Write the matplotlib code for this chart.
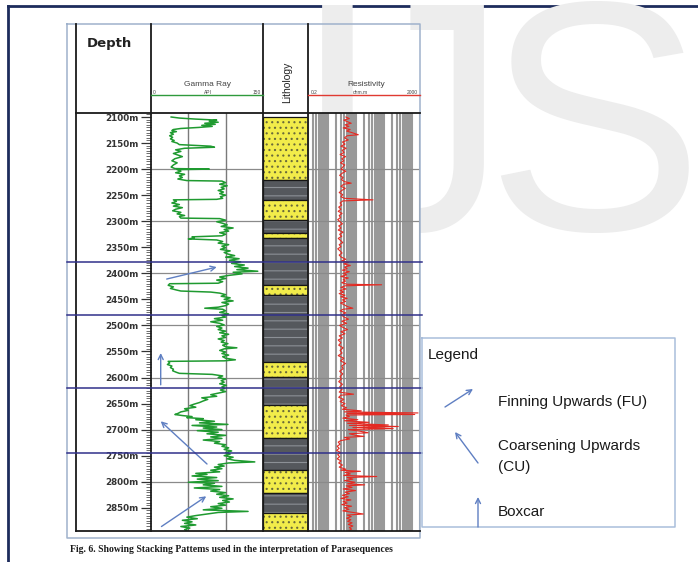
import numpy as np
import matplotlib
matplotlib.use("Agg")
import matplotlib.pyplot as plt
from matplotlib import transforms
from matplotlib.ticker import MultipleLocator, LogLocator, NullFormatter

depth_ticks = [2100, 2150, 2200, 2250, 2300, 2350, 2400, 2450,
               2500, 2550, 2600, 2650, 2700, 2750, 2800, 2850]
grid_depths = [2200, 2300, 2400, 2500, 2600, 2700, 2800]
boundaries = [2378, 2480, 2620, 2745]   # parasequence boundaries (m)

# gamma ray (depth m, API)
gamma_log = [
    (2100, 27), (2102, 38), (2104, 60), (2106, 88), (2108, 78), (2110, 90), (2112, 72),
    (2114, 86), (2116, 68), (2118, 82), (2120, 64), (2122, 40), (2124, 30), (2126, 28),
    (2128, 34), (2130, 26), (2133, 30), (2136, 25), (2139, 29), (2142, 26), (2145, 31),
    (2147, 28), (2150, 35), (2153, 38), (2156, 80), (2158, 85), (2160, 45), (2163, 33),
    (2166, 40), (2170, 30), (2173, 36), (2176, 42), (2180, 32), (2184, 28), (2188, 35),
    (2192, 30), (2196, 27), (2199, 32), (2200, 78), (2201, 35), (2204, 40), (2207, 33),
    (2210, 45), (2213, 38), (2216, 42), (2219, 36), (2222, 48), (2223, 95), (2226, 100),
    (2229, 92), (2232, 102), (2235, 94), (2238, 98), (2241, 90), (2244, 97), (2247, 92),
    (2250, 100), (2253, 93), (2256, 96), (2258, 88), (2259, 30), (2262, 34), (2265, 28),
    (2268, 38), (2271, 30), (2274, 42), (2277, 33), (2280, 29), (2283, 40), (2286, 35),
    (2289, 45), (2291, 38), (2294, 40), (2295, 92), (2298, 100), (2301, 88), (2304, 96),
    (2307, 102), (2310, 94), (2313, 110), (2316, 98), (2319, 104), (2322, 92), (2325, 100),
    (2328, 95), (2330, 55), (2332, 58), (2334, 50), (2336, 88), (2339, 96), (2342, 90),
    (2345, 104), (2348, 95), (2351, 100), (2354, 93), (2357, 106), (2360, 98), (2363, 103),
    (2366, 112), (2369, 100), (2372, 118), (2375, 105), (2378, 120), (2381, 108), (2384, 125),
    (2387, 112), (2390, 130), (2393, 115), (2396, 143), (2398, 110), (2401, 122), (2404, 104),
    (2407, 92), (2410, 100), (2413, 88), (2416, 96), (2419, 90), (2420, 25), (2423, 23),
    (2426, 30), (2429, 26), (2432, 34), (2434, 40), (2436, 80), (2438, 92), (2441, 100),
    (2444, 94), (2447, 106), (2450, 98), (2453, 110), (2456, 95), (2459, 104), (2462, 100),
    (2465, 90), (2467, 72), (2469, 96), (2472, 100), (2475, 92), (2478, 104), (2481, 95),
    (2484, 100), (2487, 85), (2490, 96), (2493, 80), (2496, 92), (2499, 98), (2502, 88),
    (2505, 95), (2508, 90), (2511, 100), (2514, 92), (2517, 104), (2520, 95), (2523, 100),
    (2526, 90), (2529, 98), (2532, 94), (2535, 103), (2538, 96), (2541, 100), (2543, 115),
    (2545, 98), (2548, 92), (2551, 100), (2554, 95), (2557, 104), (2560, 96), (2563, 100),
    (2566, 113), (2568, 98), (2569, 23), (2572, 25), (2575, 22), (2578, 28), (2581, 26),
    (2584, 30), (2587, 29), (2590, 34), (2592, 38), (2594, 82), (2597, 96), (2600, 90),
    (2603, 100), (2606, 94), (2609, 98), (2612, 92), (2615, 101), (2618, 95), (2621, 99),
    (2624, 93), (2627, 100), (2630, 90), (2633, 80), (2636, 88), (2639, 68), (2642, 76),
    (2645, 70), (2648, 65), (2651, 58), (2654, 52), (2657, 60), (2660, 45), (2663, 50),
    (2666, 40), (2669, 36), (2671, 32), (2673, 42), (2675, 55), (2677, 48), (2679, 70),
    (2681, 60), (2684, 85), (2687, 65), (2690, 103), (2692, 55), (2695, 88), (2697, 70),
    (2700, 95), (2702, 62), (2705, 90), (2708, 75), (2711, 100), (2714, 80), (2717, 95),
    (2720, 70), (2723, 92), (2726, 85), (2729, 100), (2732, 95), (2735, 104), (2738, 98),
    (2741, 108), (2744, 100), (2747, 106), (2750, 98), (2753, 110), (2756, 102), (2759, 112),
    (2762, 139), (2764, 104), (2767, 90), (2770, 98), (2772, 85), (2775, 95), (2778, 80),
    (2781, 92), (2784, 60), (2786, 75), (2789, 55), (2792, 88), (2795, 62), (2798, 90),
    (2801, 50), (2803, 85), (2806, 70), (2809, 95), (2812, 58), (2815, 92), (2818, 80),
    (2821, 100), (2824, 88), (2827, 104), (2830, 92), (2833, 110), (2836, 96), (2839, 105),
    (2842, 90), (2845, 100), (2848, 80), (2851, 95), (2854, 70), (2857, 130), (2859, 90),
    (2862, 75), (2865, 60), (2868, 48), (2871, 62), (2874, 42), (2877, 55), (2880, 45),
    (2883, 60), (2886, 40), (2889, 52), (2892, 45), (2894, 48),
]

# resistivity (depth m, ohm.m)
res_log = [
    (2100, 4.5), (2103, 6.0), (2106, 3.8), (2109, 5.2), (2112, 7.0), (2115, 4.2), (2118, 5.8),
    (2121, 3.6), (2124, 6.4), (2127, 4.8), (2130, 7.5), (2134, 12.5), (2136, 5.0), (2140, 4.0),
    (2144, 5.5), (2148, 3.4), (2152, 4.2), (2156, 3.0), (2160, 4.6), (2164, 3.3), (2168, 3.9),
    (2172, 2.8), (2176, 4.4), (2180, 3.2), (2184, 3.8), (2188, 2.9), (2192, 4.1), (2196, 3.5),
    (2200, 3.0), (2204, 4.5), (2208, 3.3), (2212, 2.7), (2216, 3.6), (2220, 3.1), (2224, 4.0),
    (2227, 7.0), (2229, 3.8), (2233, 3.0), (2237, 4.3), (2241, 3.2), (2245, 2.6), (2249, 3.5),
    (2253, 3.0), (2256, 4.0), (2259, 42), (2261, 3.5), (2265, 2.8), (2269, 3.2), (2273, 2.5),
    (2277, 3.0), (2281, 2.4), (2285, 3.3), (2289, 2.6), (2293, 2.9), (2297, 2.3), (2301, 2.8),
    (2305, 3.4), (2309, 2.5), (2313, 3.0), (2317, 2.4), (2321, 3.6), (2325, 2.7), (2329, 3.2),
    (2333, 2.4), (2337, 2.9), (2341, 3.5), (2345, 2.6), (2349, 3.0), (2353, 2.3), (2357, 2.8),
    (2361, 3.3), (2365, 2.6), (2369, 3.1), (2373, 4.5), (2376, 3.2), (2379, 5.6), (2382, 3.8),
    (2385, 6.5), (2388, 4.0), (2391, 5.0), (2394, 3.4), (2397, 6.0), (2400, 3.7), (2403, 4.8),
    (2406, 3.0), (2409, 5.5), (2412, 3.6), (2415, 4.4), (2418, 3.2), (2421, 5.0), (2422, 85),
    (2424, 4.2), (2427, 3.0), (2430, 4.6), (2433, 2.8), (2436, 3.8), (2439, 2.6), (2442, 4.2),
    (2445, 3.0), (2448, 5.0), (2451, 3.4), (2454, 4.4), (2457, 2.9), (2460, 3.8), (2464, 5.2),
    (2467, 8.0), (2469, 3.6), (2472, 2.8), (2476, 4.5), (2480, 3.1), (2484, 3.9), (2488, 5.6),
    (2492, 3.2), (2496, 4.8), (2500, 2.7), (2504, 3.6), (2508, 5.2), (2512, 3.0), (2516, 4.2),
    (2520, 2.6), (2524, 3.4), (2528, 2.4), (2533, 3.0), (2538, 2.5), (2543, 3.6), (2548, 2.8),
    (2553, 3.3), (2558, 2.4), (2563, 3.8), (2568, 2.9), (2573, 4.4), (2578, 3.2), (2583, 3.6),
    (2588, 2.7), (2593, 3.5), (2598, 2.8), (2603, 3.1), (2608, 2.5), (2613, 3.4), (2618, 2.7),
    (2623, 3.3), (2628, 2.6), (2632, 8.5), (2634, 3.0), (2638, 2.5), (2642, 3.8), (2646, 2.8),
    (2650, 4.2), (2654, 3.1), (2658, 4.8), (2661, 3.4), (2664, 16), (2666, 4.0), (2668, 1700),
    (2669, 5.0), (2671, 1300), (2672, 4.5), (2675, 6.0), (2678, 3.5), (2681, 12), (2683, 4.0),
    (2686, 30), (2688, 5.2), (2691, 148), (2692, 6.0), (2694, 336), (2696, 8.0), (2698, 220),
    (2700, 5.5), (2703, 14), (2706, 28), (2708, 6.0), (2711, 10), (2713, 20), (2715, 4.0),
    (2718, 6.2), (2721, 3.0), (2724, 2.4), (2728, 2.8), (2732, 2.2), (2736, 2.6), (2740, 2.1),
    (2744, 2.9), (2748, 2.3), (2752, 2.7), (2756, 2.2), (2760, 3.0), (2764, 2.5), (2768, 3.4),
    (2772, 2.6), (2776, 4.5), (2778, 3.0), (2780, 15), (2782, 4.2), (2785, 6.5), (2788, 3.8),
    (2790, 57), (2792, 5.0), (2795, 8.0), (2798, 4.0), (2801, 9.5), (2804, 5.2), (2806, 21),
    (2808, 4.6), (2811, 7.5), (2814, 3.6), (2817, 10), (2820, 4.2), (2823, 6.0), (2826, 3.4),
    (2829, 5.5), (2832, 3.0), (2835, 6.8), (2838, 3.6), (2841, 5.0), (2844, 3.2), (2847, 7.2),
    (2850, 4.0), (2853, 5.8), (2856, 3.5), (2859, 8.0), (2862, 19), (2864, 5.0), (2867, 7.0),
    (2870, 4.8), (2873, 6.8), (2876, 5.2), (2879, 7.5), (2882, 5.5), (2885, 8.0), (2888, 6.0),
    (2891, 7.2), (2894, 5.8),
]

# lithology column
lith_top = [2100, 2221, 2259, 2298, 2323, 2332, 2422, 2442, 2570, 2599, 2653, 2716, 2777, 2822, 2860]
lith_base = [2221, 2259, 2298, 2323, 2332, 2422, 2442, 2570, 2599, 2653, 2716, 2777, 2822, 2860, 2895]
lith_type = ["sand", "shale", "sand", "shale", "sand", "shale", "sand", "shale",
             "sand", "shale", "sand", "shale", "sand", "shale", "sand"]

# stacking-pattern arrows drawn on the gamma track: (GR, depth) tail -> head
arrows_fu = [((21, 2411), (88, 2388)), ((14, 2886), (74, 2828))]
arrows_cu = [((75, 2766), (13, 2684))]
arrows_box = [((13, 2614), (13, 2553))]

gr_depth, gr_api = zip(*gamma_log)
res_depth, res_ohm = zip(*res_log)

W, H = 698, 562
top_depth, bot_depth = 2092.3, 2894.6


def box(x0, y0, x1, y1):
    # pixel box -> figure fraction rect
    return [x0 / W, 1 - y1 / H, (x1 - x0) / W, (y1 - y0) / H]


fig = plt.figure(figsize=(W / 100, H / 100), dpi=100)
plt.rcParams['font.family'] = ['Liberation Sans', 'DejaVu Sans']

bg = fig.add_axes([0, 0, 1, 1])
bg.set_xlim(0, W)
bg.set_ylim(H, 0)
bg.axis('off')
bg.set_zorder(0)

# faint watermark, cropped by the page edge like the original
for ch, xc in [("I", 337), ("J", 427), ("S", 594)]:
    bg.text(xc, 230, ch, fontsize=235, ha='center', va='baseline', color='#ededed',
            clip_on=True)

# page frame
bg.plot([8, W], [6, 6], color='#1d2c5c', lw=2)
bg.plot([8, 8], [6, H], color='#1d2c5c', lw=2)

# ---- gamma track ----
ax_gr = fig.add_axes(box(151, 113, 263, 531))
ax_gr.set_zorder(2)
ax_gr.patch.set_alpha(0)
ax_gr.set_xlim(0, 150)
ax_gr.set_ylim(bot_depth, top_depth)
for d in grid_depths:
    ax_gr.axhline(d, color='#8a8a8a', lw=0.9)
for g in [50, 100]:
    ax_gr.axvline(g, color='#7a7a7a', lw=1.0)
ax_gr.plot(gr_api, gr_depth, color='#1f9a30', lw=1.1)
for (x0, y0), (x1, y1) in arrows_fu + arrows_cu + arrows_box:
    ax_gr.annotate('', xy=(x1, y1), xytext=(x0, y0),
                   arrowprops=dict(arrowstyle='->', color='#5f7fc2', lw=1.0,
                                   mutation_scale=9, shrinkA=0, shrinkB=0))
for s in ax_gr.spines.values():
    s.set_visible(False)
ax_gr.set_xticks([])
ax_gr.set_yticks(depth_ticks)
ax_gr.set_yticklabels([f"{d}m" for d in depth_ticks])
ax_gr.yaxis.set_minor_locator(MultipleLocator(5))
ax_gr.tick_params(axis='y', which='major', length=7, width=0.9, color='#333333',
                  pad=2, labelsize=6.3, labelcolor='#333333')
ax_gr.tick_params(axis='y', which='minor', length=3.5, width=0.6, color='#555555')
for lab in ax_gr.get_yticklabels():
    lab.set_fontweight('bold')
    lab.set_family('DejaVu Sans')

# ---- lithology ----
ax_li = fig.add_axes(box(263, 113, 308, 531))
ax_li.set_zorder(2)
ax_li.set_xlim(0, 1)
ax_li.set_ylim(bot_depth, top_depth)
plt.rcParams['hatch.linewidth'] = 0.8
for t, b, kind in zip(lith_top, lith_base, lith_type):
    if kind == "sand":
        ax_li.barh((t + b) / 2, 1, height=b - t, left=0, color='#f2ec4a',
                   edgecolor='#6a6a3a', hatch='...', lw=0)
    else:
        ax_li.barh((t + b) / 2, 1, height=b - t, left=0, color='#55585d',
                   edgecolor='#8c9096', hatch='--', lw=0)
    ax_li.barh((t + b) / 2, 1, height=b - t, left=0, fill=False,
               edgecolor='#151515', lw=0.9)
ax_li.axis('off')

# ---- resistivity ----
ax_rs = fig.add_axes(box(308, 113, 420, 531))
ax_rs.set_zorder(2)
ax_rs.set_xscale('log')
ax_rs.set_xlim(0.2, 2000)
ax_rs.set_ylim(bot_depth, top_depth)
ax_rs.xaxis.set_major_locator(LogLocator(base=10, subs=np.arange(1, 10), numticks=100))
ax_rs.xaxis.set_minor_locator(LogLocator(base=10, subs=np.arange(1, 10), numticks=100))
ax_rs.xaxis.set_minor_formatter(NullFormatter())
ax_rs.xaxis.set_major_formatter(NullFormatter())
ax_rs.grid(axis='x', which='both', color='#999999', lw=1.5)
ax_rs.set_yticks(grid_depths)
ax_rs.grid(axis='y', which='major', color='#8a8a8a', lw=0.9)
ax_rs.tick_params(length=0, labelleft=False, labelbottom=False, which='both')
ax_rs.set_axisbelow(True)
ax_rs.plot(res_ohm, res_depth, color='#e42a22', lw=0.8)
for s in ax_rs.spines.values():
    s.set_visible(False)

# ---- foreground: table frame, headers, boundaries, legend ----
fg = fig.add_axes([0, 0, 1, 1])
fg.set_xlim(0, W)
fg.set_ylim(H, 0)
fg.axis('off')
fg.set_zorder(5)
fg.patch.set_alpha(0)

frame_light = '#9fb2cc'
fg.plot([67, 420, 420, 67, 67], [24, 24, 538, 538, 24], color=frame_light, lw=1.1)
for x in [76, 151, 263, 308]:
    fg.plot([x, x], [24, 531], color='#1a1a1a', lw=1.3)
fg.plot([76, 420], [113, 113], color='#1a1a1a', lw=1.3)
fg.plot([76, 420], [531, 531], color='#1a1a1a', lw=1.3)

fg.text(87, 43, "Depth", fontsize=9.5, fontweight='bold', ha='left', va='center',
        color='#222222', family='DejaVu Sans')
fg.text(207, 84.5, "Gamma Ray", fontsize=6.0, ha='center', va='center', color='#444444')
fg.text(153, 92, "0", fontsize=3.5, ha='left', va='center', color='#444444')
fg.text(208, 92, "API", fontsize=3.5, ha='center', va='center', color='#444444')
fg.text(261, 92, "150", fontsize=3.5, ha='right', va='center', color='#444444')
fg.plot([151, 263], [94.5, 94.5], color='#2f9a3c', lw=1)
fg.text(287, 82, "Lithology", fontsize=7.5, rotation=90, ha='center', va='center',
        color='#222222')
fg.text(366, 84.5, "Resistivity", fontsize=6.0, ha='center', va='center', color='#444444')
fg.text(311, 92, "0.2", fontsize=3.5, ha='left', va='center', color='#444444')
fg.text(360, 92, "ohm.m", fontsize=3.5, ha='center', va='center', color='#444444')
fg.text(418, 92, "2000", fontsize=3.5, ha='right', va='center', color='#444444')
fg.plot([308, 420], [94.5, 94.5], color='#e03a32', lw=1)

# parasequence boundaries: x in page pixels, y in depth
blend = transforms.blended_transform_factory(fg.transData, ax_gr.transData)
for d in boundaries:
    fg.plot([67, 422], [d, d], color='#30308a', lw=1.1, transform=blend)

# legend box
fg.plot([422, 675, 675, 422, 422], [338, 338, 527, 527, 338], color='#a9bedb', lw=1.1)
fg.text(428, 355, "Legend", fontsize=11, ha='left', va='center', color='#1a1a1a')
arrow_kw = dict(arrowstyle='->', color='#5f7fc2', lw=1.0, mutation_scale=9,
                shrinkA=0, shrinkB=0)
fg.annotate('', xy=(473, 389), xytext=(445, 407), arrowprops=arrow_kw)
fg.annotate('', xy=(455, 432), xytext=(478, 463), arrowprops=arrow_kw)
fg.annotate('', xy=(478, 497), xytext=(478, 527), arrowprops=arrow_kw)
fg.text(498, 402, "Finning Upwards (FU)", fontsize=11, ha='left', va='center', color='#1a1a1a')
fg.text(498, 446, "Coarsening Upwards", fontsize=11, ha='left', va='center', color='#1a1a1a')
fg.text(498, 467, "(CU)", fontsize=11, ha='left', va='center', color='#1a1a1a')
fg.text(498, 512, "Boxcar", fontsize=11, ha='left', va='center', color='#1a1a1a')

fg.text(70, 549, "Fig. 6. Showing Stacking Pattems used in the interpretation of Parasequences",
        fontsize=7, fontweight='bold', family='Liberation Serif', ha='left', va='center',
        color='#1a1a1a')

fig.savefig("out.png", dpi=100, facecolor='white')
